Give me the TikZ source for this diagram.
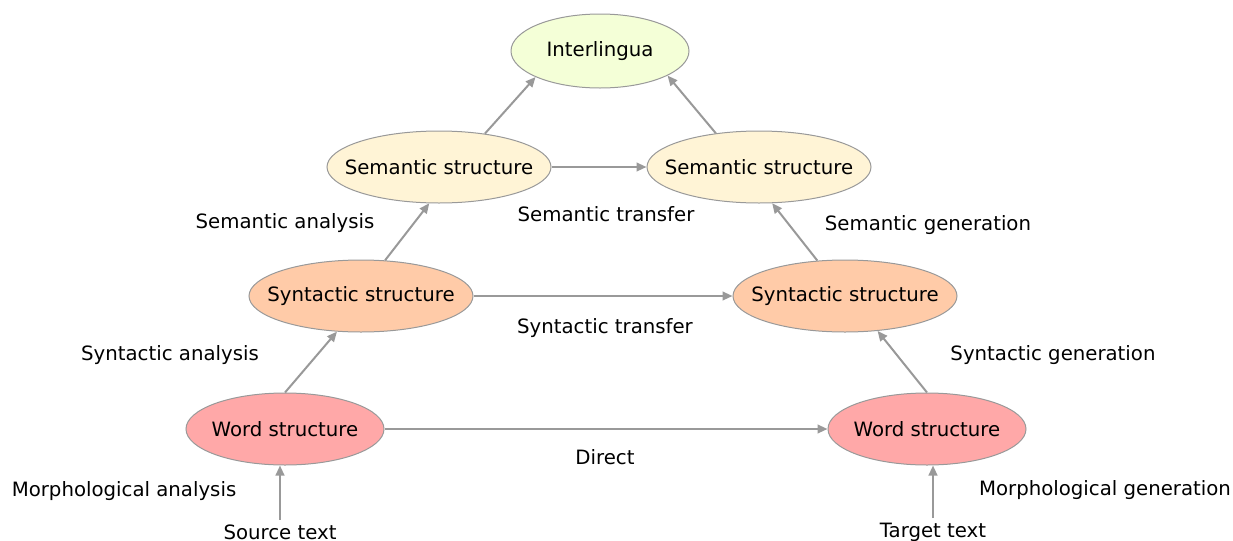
\documentclass[tikz,border=0pt]{standalone}
\usepackage{fontspec}
\setmainfont{DejaVu Sans}
\usetikzlibrary{arrows.meta,shapes.geometric}
\definecolor{linguafill}{HTML}{F4FFD7}
\definecolor{semfill}{HTML}{FFF4D6}
\definecolor{synfill}{HTML}{FFCBA8}
\definecolor{wordfill}{HTML}{FFA8A8}
\definecolor{edgegray}{HTML}{999999}
\definecolor{arrowgray}{HTML}{999999}
\begin{document}
\begin{tikzpicture}[
    x=0.75pt, y=-0.75pt,
    font=\fontsize{14.8pt}{17pt}\selectfont,
    level/.style={ellipse, draw=edgegray, line width=0.75pt, inner xsep=-14pt, inner ysep=0pt, minimum width=168pt, minimum height=54pt},
    inter/.style={level, fill=linguafill, minimum width=133.5pt, minimum height=55.5pt},
    semantic/.style={level, fill=semfill},
    syntactic/.style={level, fill=synfill},
    word/.style={level, fill=wordfill, minimum width=148.5pt},
    arrow/.style={-{Triangle[length=7.5pt,width=6.5pt]}, line width=1.5pt, draw=arrowgray},
    lbl/.style={inner sep=0pt}
]
\useasboundingbox (0,0) rectangle (1233,540);

% Levels
\node[inter] (inter) at (600,51) {Interlingua};
\node[semantic] (sem1) at (439,167) {Semantic structure};
\node[semantic] (sem2) at (759,167) {Semantic structure};
\node[syntactic] (syn1) at (361,296) {Syntactic structure};
\node[syntactic] (syn2) at (845,296) {Syntactic structure};
\node[word] (word1) at (285,429) {Word structure};
\node[word] (word2) at (927,429) {Word structure};

% Input and output
\node (src) at (280,532) {Source text};
\node (tgt) at (933,532) {Target text};

% Labels
\node[lbl] (semtr) at (606,214) {Semantic transfer};
\node[lbl] (syntr) at (605,328) {Syntactic transfer};
\node[lbl] (direct) at (605,457) {Direct};
\node[lbl] (semana) at (285,223) {Semantic analysis};
\node[lbl] (synana) at (170,355) {Syntactic analysis};
\node[lbl] (morana) at (124,491) {Morphological analysis};
\node[lbl] (semgen) at (928,225) {Semantic generation};
\node[lbl] (syngen) at (1053,355) {Syntactic generation};
\node[lbl] (morgen) at (1105,490) {Morphological generation};

% Analysis
\draw[arrow] (src.north) -- (src.north |- word1.south);
\draw[arrow] (word1.north) -- (syn1.236);
\draw[arrow] (syn1.56) -- (sem1.255);
\draw[arrow] (sem1.36) -- (inter.202);

% Generation
\draw[arrow] (tgt.north) -- (tgt.north |- word2.south);
\draw[arrow] (word2.north) -- (syn2.313);
\draw[arrow] (syn2.128) -- (sem2.290);
\draw[arrow] (sem2.142) -- (inter.340);

% Transfer
\draw[arrow] (word1.east) -- (word2.west);
\draw[arrow] (syn1.east) -- (syn2.west);
\draw[arrow] (sem1.east) -- (sem2.west);

\end{tikzpicture}
\end{document}
